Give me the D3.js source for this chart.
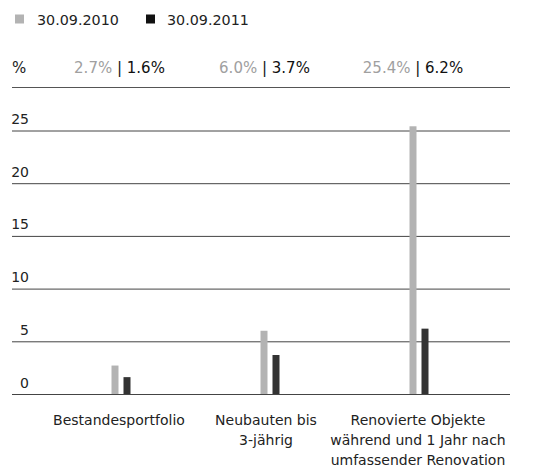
<!DOCTYPE html>
<html><head><meta charset="utf-8">
<script src="https://cdn.jsdelivr.net/npm/d3@7"></script>
<style>body{margin:0;background:#fff}svg text{font-family:"DejaVu Sans",sans-serif;}</style>
</head><body><svg id="c" width="546" height="469"></svg>
<script>
const categories = [["Bestandesportfolio"],["Neubauten bis","3-jährig"],["Renovierte Objekte","während und 1 Jahr nach","umfassender Renovation"]];
const series = ["30.09.2010","30.09.2011"];
const values2010 = [2.7, 6.0, 25.4];
const values2011 = [1.6, 3.7, 6.2];
const labels2010 = ["2.7%","6.0%","25.4%"];
const labels2011 = ["1.6%","3.7%","6.2%"];
const yTicks = [0,5,10,15,20,25];
const colors = ["#b3b3b3","#333333"];

const svg = d3.select("#c");
const fs = 14;
const x = d3.scaleBand().domain(d3.range(categories.length)).range([46.5,493.5]);
const y = d3.scaleLinear().domain([0,25]).range([394,130.5]);
const left = 12, right = 510;

// legend
const lg = svg.append("g");
[[15,37],[146,167]].forEach((p,i)=>{
  lg.append("rect").attr("x",p[0]).attr("y",14.5).attr("width",9).attr("height",9).attr("fill",i===0?colors[0]:"#111");
  lg.append("text").attr("x",p[1]).attr("y",24.5).attr("font-size",14.3).attr("fill","#222").text(series[i]);
});

// header
svg.append("text").attr("x",12).attr("y",72.5).attr("font-size",15).attr("fill","#222").text("%");
const hc = [119.5, 264.5, 413];
categories.forEach((c,i)=>{
  const t = svg.append("text").attr("x",hc[i]).attr("y",72.5).attr("font-size",15).attr("text-anchor","middle");
  t.append("tspan").attr("fill","#a0a0a0").text(labels2010[i]+" ");
  t.append("tspan").attr("fill","#111").text("| "+labels2011[i]);
});
svg.append("line").attr("x1",left).attr("x2",right).attr("y1",87.5).attr("y2",87.5).attr("stroke","#555").attr("stroke-width",1);

// grid
const ax = svg.append("g").attr("transform",`translate(${left},0)`)
  .call(d3.axisRight(y).tickValues(yTicks).tickSize(right-left).tickFormat(d3.format("d")));
ax.select(".domain").remove();
ax.selectAll(".tick line").attr("stroke","#444").attr("stroke-width",1);
ax.selectAll(".tick text").attr("x",17).attr("dy",-7).attr("text-anchor","end")
  .attr("font-size",fs).attr("fill","#222").attr("font-family","DejaVu Sans, sans-serif");

// bars
const bw = 7;
const cx = i => x(i)+x.bandwidth()/2;
svg.append("g").selectAll("rect").data(values2010).join("rect")
  .attr("x",(d,i)=>cx(i)-9.5).attr("width",bw).attr("y",d=>y(d)).attr("height",d=>y(0)-y(d)).attr("fill",colors[0]);
svg.append("g").selectAll("rect").data(values2011).join("rect")
  .attr("x",(d,i)=>cx(i)+2.5).attr("width",bw).attr("y",d=>y(d)).attr("height",d=>y(0)-y(d)).attr("fill",colors[1]);

// category labels
const lc = [119, 266, 418];
categories.forEach((c,i)=>{
  const t = svg.append("text").attr("x",lc[i]).attr("y",425).attr("font-size",fs).attr("fill","#222").attr("text-anchor","middle");
  c.forEach((l,j)=>t.append("tspan").attr("x",lc[i]).attr("y",425+j*20).text(l));
});
</script></body></html>
